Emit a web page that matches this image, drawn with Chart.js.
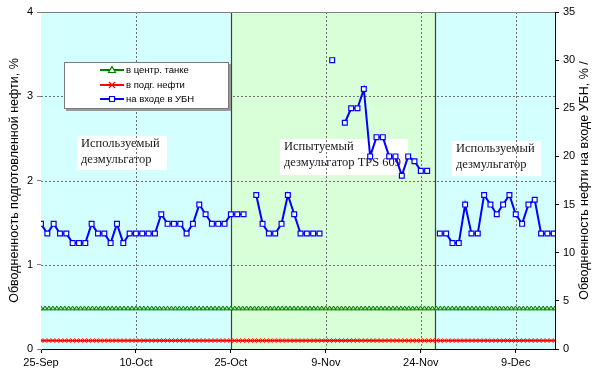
<!DOCTYPE html>
<html>
<head>
<meta charset="utf-8">
<script src="https://cdn.jsdelivr.net/npm/chart.js@4.4.1/dist/chart.umd.min.js"></script>
<style>
  html, body { margin: 0; padding: 0; background: #fff; }
  #wrap { width: 598px; height: 381px; position: relative; }
</style>
</head>
<body>
<div id="wrap"><canvas id="c"></canvas></div>
<script>
// Day offsets from 25-Sep and their axis labels
const xTickDays = [0, 15, 30, 45, 60, 75];
const xTickLabels = ['25-Sep', '10-Oct', '25-Oct', '9-Nov', '24-Nov', '9-Dec'];

// Demulsifier periods (day offsets): used, tested, used
const periodBounds = [0, 30, 62.3, 81.2];
const periodNotes = [
  ['Используемый', 'дезмульгатор'],
  ['Испытуемый', 'дезмульгатор TPS 609'],
  ['Используемый', 'дезмульгатор']
];

// Series names
const seriesNames = ['в центр. танке', 'в подг. нефти', 'на входе в УБН'];

// Water cut at the inlet of the UBN, %, one value per day from 25-Sep (null = no measurement)
const inletWaterCut = [
  13, 12, 13, 12, 12, 11, 11, 11, 13, 12,
  12, 11, 13, 11, 12, 12, 12, 12, 12, 14,
  13, 13, 13, 12, 13, 15, 14, 13, 13, 13,
  14, 14, 14, null, 16, 13, 12, 12, 13, 16,
  14, 12, 12, 12, 12, null, 30, null, 23.5, 25,
  25, 27, 20, 22, 22, 20, 20, 18, 20, 19.5,
  18.5, 18.5, null, 12, 12, 11, 11, 15, 12, 12,
  16, 15, 14, 15, 16, 14, 13, 15, 15.5, 12,
  12, 12, 13
];

// Water cut of treated oil, %, per shift sample over the same period
const tankWaterCut = [
  0.48, 0.48, 0.48, 0.48, 0.48, 0.48, 0.48, 0.48, 0.48, 0.48,
  0.48, 0.48, 0.48, 0.48, 0.48, 0.48, 0.48, 0.48, 0.48, 0.48,
  0.48, 0.48, 0.48, 0.48, 0.48, 0.48, 0.48, 0.48, 0.48, 0.48,
  0.48, 0.48, 0.48, 0.48, 0.48, 0.48, 0.48, 0.48, 0.48, 0.48,
  0.48, 0.48, 0.48, 0.48, 0.48, 0.48, 0.48, 0.48, 0.48, 0.48,
  0.48, 0.48, 0.48, 0.48, 0.48, 0.48, 0.48, 0.48, 0.48, 0.48,
  0.48, 0.48, 0.48, 0.48, 0.48, 0.48, 0.48, 0.48, 0.48, 0.48,
  0.48, 0.48, 0.48, 0.48, 0.48, 0.48, 0.48, 0.48, 0.48, 0.48,
  0.48, 0.48, 0.48, 0.48, 0.48, 0.48, 0.48, 0.48, 0.48, 0.48,
  0.48, 0.48, 0.48, 0.48, 0.48, 0.48, 0.48, 0.48, 0.48, 0.48,
  0.48, 0.48, 0.48, 0.48, 0.48, 0.48, 0.48, 0.48, 0.48, 0.48,
  0.48, 0.48, 0.48, 0.48, 0.48, 0.48, 0.48, 0.48, 0.48, 0.48,
  0.48, 0.48, 0.48, 0.48, 0.48, 0.48, 0.48, 0.48, 0.48, 0.48,
  0.48
];
const treatedWaterCut = [
  0.1, 0.1, 0.1, 0.1, 0.1, 0.1, 0.1, 0.1, 0.1, 0.1,
  0.1, 0.1, 0.1, 0.1, 0.1, 0.1, 0.1, 0.1, 0.1, 0.1,
  0.1, 0.1, 0.1, 0.1, 0.1, 0.1, 0.1, 0.1, 0.1, 0.1,
  0.1, 0.1, 0.1, 0.1, 0.1, 0.1, 0.1, 0.1, 0.1, 0.1,
  0.1, 0.1, 0.1, 0.1, 0.1, 0.1, 0.1, 0.1, 0.1, 0.1,
  0.1, 0.1, 0.1, 0.1, 0.1, 0.1, 0.1, 0.1, 0.1, 0.1,
  0.1, 0.1, 0.1, 0.1, 0.1, 0.1, 0.1, 0.1, 0.1, 0.1,
  0.1, 0.1, 0.1, 0.1, 0.1, 0.1, 0.1, 0.1, 0.1, 0.1,
  0.1, 0.1, 0.1, 0.1, 0.1, 0.1, 0.1, 0.1, 0.1, 0.1,
  0.1, 0.1, 0.1, 0.1, 0.1, 0.1, 0.1, 0.1, 0.1, 0.1,
  0.1, 0.1, 0.1, 0.1, 0.1, 0.1, 0.1, 0.1, 0.1, 0.1,
  0.1, 0.1, 0.1, 0.1, 0.1, 0.1, 0.1, 0.1, 0.1, 0.1,
  0.1, 0.1, 0.1, 0.1, 0.1, 0.1, 0.1, 0.1, 0.1, 0.1,
  0.1
];

const leftTitle = 'Обводненность подготовленной нефти, %';
const rightTitle = 'Обводненность нефти на входе УБН, % /';

const SANS = '"Liberation Sans", Arial, sans-serif';
const SERIF = '"Liberation Serif", "Times New Roman", serif';

const COLORS = {
  tank: '#008000',
  treated: '#ff0000',
  inlet: '#0000ff',
  usedBg: '#d4ffff',
  testBg: '#d8ffd8'
};

// Background periods, note boxes and grid drawn beneath the series
const backdrop = {
  id: 'backdrop',
  beforeDatasetsDraw(chart) {
    const { ctx, chartArea: a, scales } = chart;
    const x = scales.x, y = scales.y;
    ctx.save();
    // period fills
    for (let i = 0; i < periodBounds.length - 1; i++) {
      const x0 = x.getPixelForValue(periodBounds[i]);
      const x1 = x.getPixelForValue(periodBounds[i + 1]);
      ctx.fillStyle = i === 1 ? COLORS.testBg : COLORS.usedBg;
      ctx.fillRect(x0, a.top, x1 - x0, a.bottom - a.top);
    }
    // note boxes
    const boxes = [
      { l: 77, t: 136, w: 90, h: 34 },
      { l: 280, t: 139, w: 128, h: 36 },
      { l: 452, t: 141, w: 89, h: 35 }
    ];
    ctx.font = '12.5px ' + SERIF;
    ctx.textBaseline = 'middle';
    ctx.textAlign = 'left';
    periodNotes.forEach((lines, i) => {
      const b = boxes[i];
      ctx.fillStyle = '#ffffff';
      ctx.fillRect(b.l, b.t, b.w, b.h);
      ctx.fillStyle = '#1a1a1a';
      lines.forEach((s, j) => ctx.fillText(s, b.l + 4, b.t + 8 + j * 16));
    });
    // dotted grid
    ctx.strokeStyle = '#707070';
    ctx.lineWidth = 1;
    ctx.setLineDash([2, 2]);
    [1, 2, 3].forEach(v => {
      const py = Math.round(y.getPixelForValue(v)) + 0.5;
      ctx.beginPath(); ctx.moveTo(a.left, py); ctx.lineTo(a.right, py); ctx.stroke();
    });
    xTickDays.slice(1).forEach(d => {
      if (d === periodBounds[1]) return;
      const px = Math.round(x.getPixelForValue(d)) + 0.5;
      ctx.beginPath(); ctx.moveTo(px, a.top); ctx.lineTo(px, a.bottom); ctx.stroke();
    });
    ctx.setLineDash([]);
    // period separators
    ctx.strokeStyle = '#404040';
    ctx.lineWidth = 1.2;
    [periodBounds[1], periodBounds[2]].forEach(d => {
      const px = Math.round(x.getPixelForValue(d)) + 0.5;
      ctx.beginPath(); ctx.moveTo(px, a.top); ctx.lineTo(px, a.bottom); ctx.stroke();
    });
    // top frame
    ctx.strokeStyle = '#808080';
    ctx.lineWidth = 1;
    ctx.beginPath(); ctx.moveTo(a.left, a.top + 0.5); ctx.lineTo(a.right, a.top + 0.5); ctx.stroke();
    ctx.restore();
  }
};

// Legend box and rotated axis titles
const overlay = {
  id: 'overlay',
  afterDraw(chart) {
    const { ctx, chartArea: a } = chart;
    ctx.save();
    // legend
    const L = { l: 64, t: 62, w: 165, h: 47 };
    ctx.fillStyle = '#9a9a9a';
    ctx.fillRect(L.l + 2, L.t + 2, L.w, L.h);
    ctx.fillStyle = '#ffffff';
    ctx.fillRect(L.l, L.t, L.w, L.h);
    ctx.strokeStyle = '#7a7a7a';
    ctx.lineWidth = 1;
    ctx.strokeRect(L.l + 0.5, L.t + 0.5, L.w - 1, L.h - 1);
    const rows = [70, 85, 99];
    const sets = chart.data.datasets;
    ctx.font = '9.5px ' + SANS;
    ctx.textBaseline = 'middle';
    rows.forEach((ry, i) => {
      const ds = sets[i];
      ctx.strokeStyle = ds.borderColor;
      ctx.lineWidth = 2;
      ctx.beginPath(); ctx.moveTo(100, ry); ctx.lineTo(124, ry); ctx.stroke();
      ctx.fillStyle = '#ffffff';
      ctx.lineWidth = 1.2;
      ctx.beginPath();
      if (ds.pointStyle === 'rect') {
        ctx.rect(109.5, ry - 2.5, 5, 5);
        ctx.fill(); ctx.stroke();
      } else if (ds.pointStyle === 'triangle') {
        ctx.moveTo(112, ry - 3.5); ctx.lineTo(115.5, ry + 2.5); ctx.lineTo(108.5, ry + 2.5); ctx.closePath();
        ctx.fill(); ctx.stroke();
      } else {
        ctx.moveTo(109, ry - 3); ctx.lineTo(115, ry + 3);
        ctx.moveTo(115, ry - 3); ctx.lineTo(109, ry + 3);
        ctx.stroke();
      }
      ctx.fillStyle = '#000';
      ctx.textAlign = 'left';
      ctx.fillText(ds.label, 126, ry + 0.5);
    });
    // axis titles
    ctx.font = '12.5px ' + SANS;
    ctx.fillStyle = '#000';
    ctx.textAlign = 'center';
    ctx.textBaseline = 'middle';
    const cy = (a.top + a.bottom) / 2;
    [[15, leftTitle], [585, rightTitle]].forEach(([tx, s]) => {
      ctx.save();
      ctx.translate(tx, cy);
      ctx.rotate(-Math.PI / 2);
      ctx.fillText(s, 0, 0);
      ctx.restore();
    });
    ctx.restore();
  }
};

const tankPts = tankWaterCut.map((v, i) => ({ x: i, y: v }));
const treatedPts = treatedWaterCut.map((v, i) => ({ x: i, y: v }));
const inletPts = inletWaterCut.map((v, i) => ({ x: i, y: v }));

new Chart(document.getElementById('c'), {
  type: 'line',
  data: {
    datasets: [
      {
        label: seriesNames[0], data: tankPts, xAxisID: 'xs', yAxisID: 'y',
        borderColor: COLORS.tank, backgroundColor: '#ffffff', borderWidth: 1.8,
        pointStyle: 'triangle', pointRadius: 2.6, pointBorderWidth: 1,
        pointBackgroundColor: '#b8e8b8', pointBorderColor: COLORS.tank
      },
      {
        label: seriesNames[1], data: treatedPts, xAxisID: 'xs', yAxisID: 'y',
        borderColor: COLORS.treated, backgroundColor: COLORS.treated, borderWidth: 1.8,
        pointStyle: 'crossRot', pointRadius: 2.8, pointBorderWidth: 1,
        pointBorderColor: COLORS.treated
      },
      {
        label: seriesNames[2], data: inletPts, xAxisID: 'x', yAxisID: 'y2',
        borderColor: COLORS.inlet, backgroundColor: '#ffffff', borderWidth: 2,
        pointStyle: 'rect', pointRadius: 3.4, pointBorderWidth: 1.2,
        pointBackgroundColor: '#ffffff', pointBorderColor: COLORS.inlet,
        spanGaps: false
      }
    ]
  },
  options: {
    responsive: true,
    maintainAspectRatio: false,
    animation: false,
    devicePixelRatio: 1,
    layout: { padding: { top: 12, left: 0, right: 0, bottom: 0 } },
    plugins: { legend: { display: false }, tooltip: { enabled: false } },
    elements: { line: { tension: 0 } },
    scales: {
      x: {
        type: 'linear', position: 'bottom', min: 0, max: periodBounds[3],
        afterFit(s) { s.height = 32; },
        afterBuildTicks(s) { s.ticks = xTickDays.map(v => ({ value: v })); },
        ticks: {
          autoSkip: false, maxRotation: 0, padding: 3,
          color: '#000', font: { family: SANS, size: 11 },
          callback: (v) => xTickLabels[xTickDays.indexOf(v)]
        },
        grid: { drawOnChartArea: false, drawTicks: true, tickLength: 4, tickColor: '#000' },
        border: { color: '#000', width: 1 }
      },
      xs: {
        type: 'linear', display: false, min: 0, max: tankWaterCut.length - 1
      },
      y: {
        type: 'linear', position: 'left', min: 0, max: 4,
        afterFit(s) { s.width = 41; },
        ticks: { stepSize: 1, padding: 4, color: '#000', font: { family: SANS, size: 11 } },
        grid: { drawOnChartArea: false, drawTicks: true, tickLength: 4, tickColor: '#808080' },
        border: { color: '#808080', width: 1 }
      },
      y2: {
        type: 'linear', position: 'right', min: 0, max: 35,
        afterFit(s) { s.width = 43; },
        ticks: { stepSize: 5, padding: 4, color: '#000', font: { family: SANS, size: 11 } },
        grid: { drawOnChartArea: false, drawTicks: true, tickLength: 4, tickColor: '#000' },
        border: { color: '#000', width: 1 }
      }
    }
  },
  plugins: [backdrop, overlay]
});
</script>
</body>
</html>
